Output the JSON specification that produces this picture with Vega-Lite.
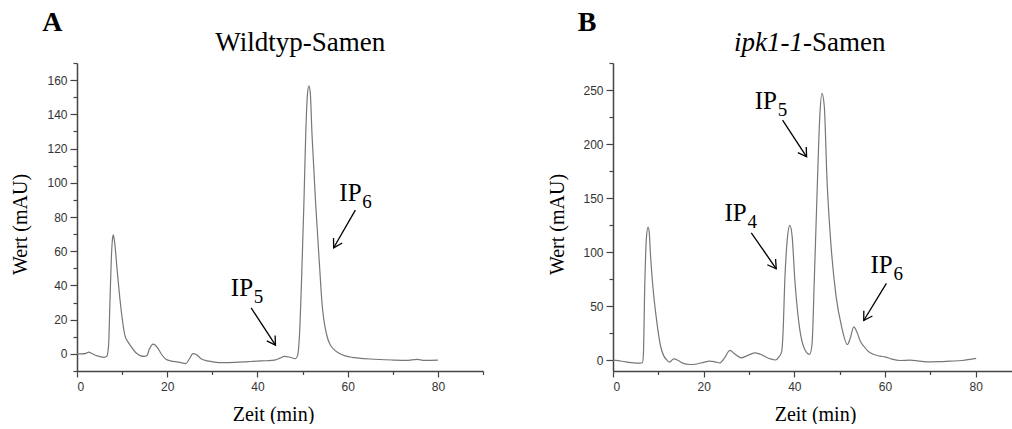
{
  "$schema": "https://vega.github.io/schema/vega-lite/v6.json",
  "background": "white",
  "padding": {"left": 10, "top": 9, "right": 0, "bottom": 0},
  "spacing": 130,
  "bounds": "flush",
  "config": {
    "view": {"stroke": null},
    "axis": {
      "grid": false,
      "labelOverlap": false,
      "domainColor": "#444",
      "domainWidth": 1.5,
      "tickColor": "#444",
      "tickWidth": 1.2,
      "labelColor": "#333",
      "labelFont": "Liberation Sans",
      "labelFontSize": 12,
      "titleFont": "Liberation Serif",
      "titleFontSize": 20,
      "titleFontWeight": "normal",
      "titleColor": "black"
    }
  },
  "datasets": {
    "trace": [
      {"p":"A","t":0,"v":0},{"p":"A","t":1,"v":0},{"p":"A","t":2,"v":0.3},{"p":"A","t":2.6,"v":1.0},{"p":"A","t":3.3,"v":0.2},{"p":"A","t":4.5,"v":-1.2},{"p":"A","t":6,"v":-2.0},{"p":"A","t":6.6,"v":-1.4},{"p":"A","t":7.0,"v":5},{"p":"A","t":7.3,"v":30},{"p":"A","t":7.6,"v":55},{"p":"A","t":7.9,"v":68},{"p":"A","t":8.05,"v":69.6},{"p":"A","t":8.3,"v":66},{"p":"A","t":8.9,"v":49},{"p":"A","t":9.6,"v":30},{"p":"A","t":10.6,"v":11},{"p":"A","t":11.3,"v":7},{"p":"A","t":11.9,"v":4.7},{"p":"A","t":13.0,"v":0.8},{"p":"A","t":14.0,"v":-1},{"p":"A","t":14.9,"v":-1.5},{"p":"A","t":15.5,"v":-1},{"p":"A","t":16.0,"v":2.5},{"p":"A","t":16.9,"v":5.7},{"p":"A","t":17.8,"v":3.8},{"p":"A","t":18.8,"v":-0.5},{"p":"A","t":19.7,"v":-3.1},{"p":"A","t":21,"v":-4.2},{"p":"A","t":22.3,"v":-4.7},{"p":"A","t":23.2,"v":-5.3},{"p":"A","t":24.1,"v":-5.7},{"p":"A","t":24.9,"v":-3},{"p":"A","t":25.7,"v":0.2},{"p":"A","t":26.5,"v":-0.5},{"p":"A","t":27.5,"v":-2.8},{"p":"A","t":28.9,"v":-4.1},{"p":"A","t":30.5,"v":-4.8},{"p":"A","t":32.2,"v":-5.1},{"p":"A","t":35,"v":-5},{"p":"A","t":38,"v":-4.5},{"p":"A","t":40,"v":-4.2},{"p":"A","t":42,"v":-4},{"p":"A","t":44,"v":-3.5},{"p":"A","t":45,"v":-2.5},{"p":"A","t":46,"v":-1.5},{"p":"A","t":47,"v":-1.8},{"p":"A","t":48.4,"v":-2.8},{"p":"A","t":48.9,"v":-1},{"p":"A","t":49.3,"v":10},{"p":"A","t":49.8,"v":45},{"p":"A","t":50.3,"v":88},{"p":"A","t":50.7,"v":128},{"p":"A","t":51.1,"v":152},{"p":"A","t":51.4,"v":156.7},{"p":"A","t":51.7,"v":153},{"p":"A","t":52.1,"v":128},{"p":"A","t":52.9,"v":88},{"p":"A","t":53.8,"v":50},{"p":"A","t":54.3,"v":30},{"p":"A","t":55.4,"v":10.6},{"p":"A","t":56.2,"v":5},{"p":"A","t":56.9,"v":2.8},{"p":"A","t":58,"v":0.5},{"p":"A","t":59.5,"v":-1.2},{"p":"A","t":61,"v":-2},{"p":"A","t":62,"v":-2.3},{"p":"A","t":65,"v":-3},{"p":"A","t":70,"v":-3.6},{"p":"A","t":73,"v":-3.8},{"p":"A","t":75.4,"v":-3.2},{"p":"A","t":77,"v":-3.8},{"p":"A","t":80,"v":-3.7},
      {"p":"B","t":0,"v":0},{"p":"B","t":2,"v":-1},{"p":"B","t":4,"v":-2.2},{"p":"B","t":6,"v":-2.8},{"p":"B","t":6.5,"v":-2.4},{"p":"B","t":6.7,"v":5},{"p":"B","t":7.0,"v":68},{"p":"B","t":7.35,"v":112},{"p":"B","t":7.73,"v":123.2},{"p":"B","t":8.0,"v":118},{"p":"B","t":8.25,"v":99},{"p":"B","t":8.8,"v":68},{"p":"B","t":9.6,"v":37.6},{"p":"B","t":10.5,"v":12.9},{"p":"B","t":11.2,"v":4},{"p":"B","t":11.8,"v":0.6},{"p":"B","t":12.5,"v":-1.8},{"p":"B","t":13.4,"v":1.3},{"p":"B","t":14.5,"v":-0.5},{"p":"B","t":15.5,"v":-3},{"p":"B","t":16.9,"v":-4},{"p":"B","t":18.5,"v":-3.5},{"p":"B","t":20,"v":-2},{"p":"B","t":21.3,"v":-0.9},{"p":"B","t":22.5,"v":-1.5},{"p":"B","t":23.6,"v":-2.4},{"p":"B","t":24.5,"v":1.5},{"p":"B","t":25.8,"v":9.0},{"p":"B","t":26.8,"v":6},{"p":"B","t":28.3,"v":2.2},{"p":"B","t":29.5,"v":4},{"p":"B","t":31.3,"v":6.8},{"p":"B","t":32.5,"v":5.5},{"p":"B","t":34.6,"v":1.3},{"p":"B","t":35.8,"v":0.2},{"p":"B","t":36.6,"v":3.1},{"p":"B","t":37.2,"v":8},{"p":"B","t":37.5,"v":25},{"p":"B","t":37.9,"v":74.5},{"p":"B","t":38.4,"v":110},{"p":"B","t":39.0,"v":124.7},{"p":"B","t":39.5,"v":115},{"p":"B","t":40.1,"v":74.5},{"p":"B","t":41.2,"v":28.3},{"p":"B","t":42.3,"v":9.9},{"p":"B","t":43.4,"v":5.3},{"p":"B","t":43.9,"v":15},{"p":"B","t":44.4,"v":74.5},{"p":"B","t":45.1,"v":166.9},{"p":"B","t":45.6,"v":225},{"p":"B","t":46.1,"v":246.9},{"p":"B","t":46.6,"v":235},{"p":"B","t":47.2,"v":166.9},{"p":"B","t":48.1,"v":105.3},{"p":"B","t":49.2,"v":59.1},{"p":"B","t":50.4,"v":31.4},{"p":"B","t":51.7,"v":14.5},{"p":"B","t":52.3,"v":20},{"p":"B","t":53.1,"v":30.8},{"p":"B","t":53.8,"v":26},{"p":"B","t":54.5,"v":18},{"p":"B","t":55.3,"v":12.9},{"p":"B","t":56.7,"v":6.8},{"p":"B","t":58.9,"v":3.7},{"p":"B","t":60,"v":3.1},{"p":"B","t":61.5,"v":1},{"p":"B","t":63.3,"v":-0.3},{"p":"B","t":65.5,"v":0},{"p":"B","t":67.5,"v":-0.8},{"p":"B","t":69.9,"v":-1.5},{"p":"B","t":72,"v":-1.4},{"p":"B","t":74.3,"v":-0.9},{"p":"B","t":77,"v":-0.3},{"p":"B","t":80.1,"v":1.6}
    ],
    "arrows": [
      {"p":"A","x0":61.7,"y0":84.0,"x1":56.9,"y1":62.0},
      {"p":"A","x0":38.6,"y0":26.9,"x1":44.0,"y1":5.1},
      {"p":"B","x0":37.4,"y0":222.1,"x1":42.7,"y1":188.2},
      {"p":"B","x0":30.5,"y0":117.9,"x1":36.0,"y1":84.6},
      {"p":"B","x0":60.3,"y0":71.0,"x1":55.3,"y1":36.7}
    ],
    "labels": [
      {"p":"A","x":58.15,"y":89.2,"sub":"6"},
      {"p":"A","x":34.1,"y":33.7,"sub":"5"},
      {"p":"B","x":31.25,"y":232.0,"sub":"5"},
      {"p":"B","x":24.6,"y":128.6,"sub":"4"},
      {"p":"B","x":56.8,"y":80.9,"sub":"6"}
    ],
    "heads": [
      {"p":"A","x":-7.7,"y":188.6,"letter":"A","title":"Wildtyp-Samen","tx":49.5,"ty":176.9},
      {"p":"B","x":-7.8,"y":304.4,"letter":"B","title":"-Samen","tx":41.9,"ty":285.9,"ital":"ipk1-1"}
    ]
  },
  "hconcat": [
    {
      "width": 406,
      "height": 308,
      "layer": [
        {
          "data": {"name": "trace"},
          "transform": [{"filter": "datum.p === 'A'"}],
          "mark": {"type": "line", "color": "#777", "strokeWidth": 1.2, "interpolate": "monotone"},
          "encoding": {
            "x": {"field": "t", "type": "quantitative", "scale": {"domain": [0, 90], "nice": false, "zero": false},
              "axis": {"title": "Zeit (min)", "titleFont": "Liberation Serif", "labelOverlap": false, "tickCount": 100, "values": [0,10,20,30,40,50,60,70,80,90], "labelExpr": "datum.value % 20 === 0 ? datum.label : ''", "tickSize": {"condition": {"test": "datum.value % 20 === 0", "value": 6}, "value": 3.5}, "labelPadding": 4, "titlePadding": 12, "titleX": 196}},
            "y": {"field": "v", "type": "quantitative", "scale": {"domain": [-10, 170], "nice": false, "zero": false},
              "axis": {"title": "Wert (mAU)", "titleFont": "Liberation Serif", "labelOverlap": false, "tickCount": 100, "values": [-10,0,10,20,30,40,50,60,70,80,90,100,110,120,130,140,150,160,170], "labelExpr": "datum.value % 20 === 0 ? datum.label : ''", "tickSize": {"condition": {"test": "datum.value % 20 === 0", "value": 7}, "value": 4}, "labelPadding": 3, "titlePadding": 16, "titleY": 161}}
          }
        },
        {
          "data": {"name": "arrows"},
          "transform": [{"filter": "datum.p === 'A'"}],
          "mark": {"type": "rule", "color": "black", "strokeWidth": 1.3},
          "encoding": {
            "x": {"field": "x0", "type": "quantitative"},
            "y": {"field": "y0", "type": "quantitative"},
            "x2": {"field": "x1"},
            "y2": {"field": "y1"}
          }
        },
        {
          "data": {"name": "arrows"},
          "transform": [{"filter": "datum.p === 'A'"}, {"calculate": "atan2(-(datum.y1 - datum.y0) * 1.711, (datum.x1 - datum.x0) * 4.511) * 180 / PI", "as": "ang"}],
          "mark": {"type": "point", "shape": "M -1 -0.6 L 0 0 L -1 0.6", "filled": false, "color": "black", "strokeWidth": 1.3, "size": 280, "opacity": 1},
          "encoding": {
            "x": {"field": "x1", "type": "quantitative"},
            "y": {"field": "y1", "type": "quantitative"},
            "angle": {"field": "ang", "type": "quantitative", "scale": null}
          }
        },
        {
          "data": {"name": "labels"},
          "transform": [{"filter": "datum.p === 'A'"}],
          "mark": {"type": "text", "font": "Liberation Serif", "fontSize": 25, "align": "left", "baseline": "alphabetic", "color": "black"},
          "encoding": {
            "x": {"field": "x", "type": "quantitative"},
            "y": {"field": "y", "type": "quantitative"},
            "text": {"value": "IP"}
          }
        },
        {
          "data": {"name": "labels"},
          "transform": [{"filter": "datum.p === 'A'"}],
          "mark": {"type": "text", "font": "Liberation Serif", "fontSize": 19, "align": "left", "baseline": "alphabetic", "dx": 23, "dy": 7, "color": "black"},
          "encoding": {
            "x": {"field": "x", "type": "quantitative"},
            "y": {"field": "y", "type": "quantitative"},
            "text": {"field": "sub"}
          }
        },
        {
          "data": {"name": "heads"},
          "transform": [{"filter": "datum.p === 'A'"}],
          "mark": {"type": "text", "font": "Liberation Serif", "fontSize": 28, "fontWeight": "bold", "align": "left", "baseline": "alphabetic", "color": "black"},
          "encoding": {
            "x": {"field": "x", "type": "quantitative"},
            "y": {"field": "y", "type": "quantitative"},
            "text": {"field": "letter"}
          }
        },
        {
          "data": {"name": "heads"},
          "transform": [{"filter": "datum.p === 'A'"}],
          "mark": {"type": "text", "font": "Liberation Serif", "fontSize": 27, "align": "center", "baseline": "alphabetic", "color": "black"},
          "encoding": {
            "x": {"field": "tx", "type": "quantitative"},
            "y": {"field": "ty", "type": "quantitative"},
            "text": {"field": "title"}
          }
        }
      ]
    },
    {
      "width": 399,
      "height": 308,
      "layer": [
        {
          "data": {"name": "trace"},
          "transform": [{"filter": "datum.p === 'B'"}],
          "mark": {"type": "line", "color": "#777", "strokeWidth": 1.2, "interpolate": "monotone"},
          "encoding": {
            "x": {"field": "t", "type": "quantitative", "scale": {"domain": [0, 88], "nice": false, "zero": false},
              "axis": {"title": "Zeit (min)", "titleFont": "Liberation Serif", "labelOverlap": false, "tickCount": 100, "values": [0,10,20,30,40,50,60,70,80], "labelExpr": "datum.value % 20 === 0 ? datum.label : ''", "tickSize": {"condition": {"test": "datum.value % 20 === 0", "value": 6}, "value": 3.5}, "labelPadding": 4, "titlePadding": 12, "titleX": 202}},
            "y": {"field": "v", "type": "quantitative", "scale": {"domain": [-10, 275], "nice": false, "zero": false},
              "axis": {"title": "Wert (mAU)", "titleFont": "Liberation Serif", "labelOverlap": false, "tickCount": 100, "values": [0,25,50,75,100,125,150,175,200,225,250,275], "labelExpr": "datum.value % 50 === 0 ? datum.label : ''", "tickSize": {"condition": {"test": "datum.value % 50 === 0", "value": 7}, "value": 4}, "labelPadding": 3, "titlePadding": 15, "titleY": 161}}
          }
        },
        {
          "data": {"name": "arrows"},
          "transform": [{"filter": "datum.p === 'B'"}],
          "mark": {"type": "rule", "color": "black", "strokeWidth": 1.3},
          "encoding": {
            "x": {"field": "x0", "type": "quantitative"},
            "y": {"field": "y0", "type": "quantitative"},
            "x2": {"field": "x1"},
            "y2": {"field": "y1"}
          }
        },
        {
          "data": {"name": "arrows"},
          "transform": [{"filter": "datum.p === 'B'"}, {"calculate": "atan2(-(datum.y1 - datum.y0) * 1.0807, (datum.x1 - datum.x0) * 4.534) * 180 / PI", "as": "ang"}],
          "mark": {"type": "point", "shape": "M -1 -0.6 L 0 0 L -1 0.6", "filled": false, "color": "black", "strokeWidth": 1.3, "size": 280, "opacity": 1},
          "encoding": {
            "x": {"field": "x1", "type": "quantitative"},
            "y": {"field": "y1", "type": "quantitative"},
            "angle": {"field": "ang", "type": "quantitative", "scale": null}
          }
        },
        {
          "data": {"name": "labels"},
          "transform": [{"filter": "datum.p === 'B'"}],
          "mark": {"type": "text", "font": "Liberation Serif", "fontSize": 25, "align": "left", "baseline": "alphabetic", "color": "black"},
          "encoding": {
            "x": {"field": "x", "type": "quantitative"},
            "y": {"field": "y", "type": "quantitative"},
            "text": {"value": "IP"}
          }
        },
        {
          "data": {"name": "labels"},
          "transform": [{"filter": "datum.p === 'B'"}],
          "mark": {"type": "text", "font": "Liberation Serif", "fontSize": 19, "align": "left", "baseline": "alphabetic", "dx": 23, "dy": 7, "color": "black"},
          "encoding": {
            "x": {"field": "x", "type": "quantitative"},
            "y": {"field": "y", "type": "quantitative"},
            "text": {"field": "sub"}
          }
        },
        {
          "data": {"name": "heads"},
          "transform": [{"filter": "datum.p === 'B'"}],
          "mark": {"type": "text", "font": "Liberation Serif", "fontSize": 28, "fontWeight": "bold", "align": "left", "baseline": "alphabetic", "color": "black"},
          "encoding": {
            "x": {"field": "x", "type": "quantitative"},
            "y": {"field": "y", "type": "quantitative"},
            "text": {"field": "letter"}
          }
        },
        {
          "data": {"name": "heads"},
          "transform": [{"filter": "datum.p === 'B'"}],
          "mark": {"type": "text", "font": "Liberation Serif", "fontSize": 27, "fontStyle": "italic", "align": "right", "baseline": "alphabetic", "color": "black"},
          "encoding": {
            "x": {"field": "tx", "type": "quantitative"},
            "y": {"field": "ty", "type": "quantitative"},
            "text": {"field": "ital"}
          }
        },
        {
          "data": {"name": "heads"},
          "transform": [{"filter": "datum.p === 'B'"}],
          "mark": {"type": "text", "font": "Liberation Serif", "fontSize": 27, "align": "left", "baseline": "alphabetic", "color": "black"},
          "encoding": {
            "x": {"field": "tx", "type": "quantitative"},
            "y": {"field": "ty", "type": "quantitative"},
            "text": {"field": "title"}
          }
        }
      ]
    }
  ]
}
